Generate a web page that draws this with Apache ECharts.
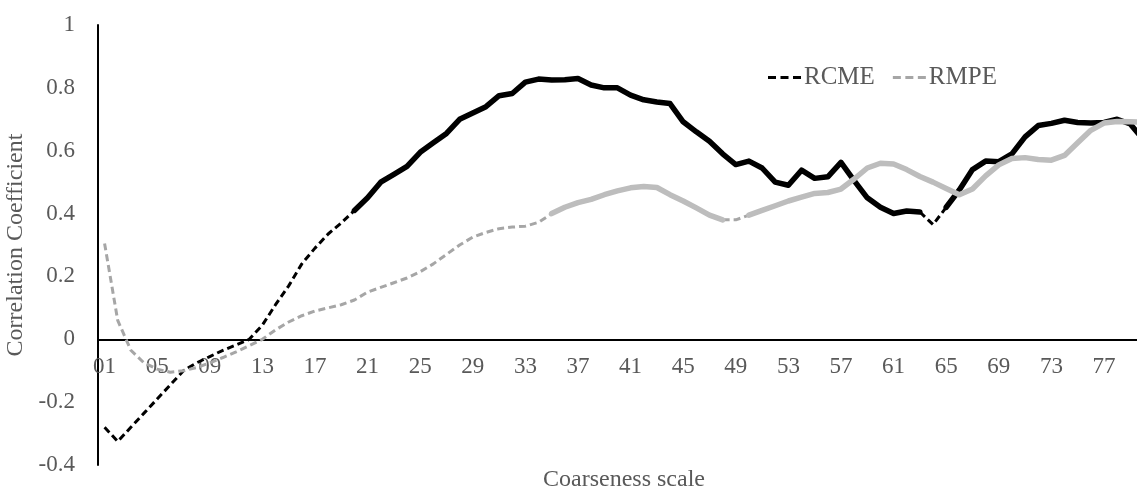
<!DOCTYPE html>
<html>
<head>
<meta charset="utf-8">
<script src="https://cdn.jsdelivr.net/npm/echarts@6/dist/echarts.min.js"></script>
<style>
  html, body { margin: 0; padding: 0; background: #fff; }
  #chart { width: 1137px; height: 492px; }
</style>
</head>
<body>
<div id="chart"></div>
<script>
// Coarseness scales 01..80
const scales = Array.from({ length: 80 }, (_, i) => String(i + 1).padStart(2, '0'));

// Correlation coefficient per scale
const rcme = [
  -0.28, -0.325, -0.28, -0.235, -0.19, -0.145, -0.10, -0.075, -0.055, -0.035,
  -0.018, 0.0, 0.045, 0.11, 0.17, 0.24, 0.29, 0.335, 0.37, 0.41,
  0.45, 0.50, 0.525, 0.55, 0.595, 0.625, 0.655, 0.70, 0.72, 0.74,
  0.775, 0.782, 0.818, 0.828, 0.825, 0.826, 0.83, 0.809, 0.80, 0.80,
  0.777, 0.762, 0.755, 0.75, 0.692, 0.66, 0.63, 0.59, 0.556, 0.567,
  0.545, 0.50, 0.49, 0.538, 0.512, 0.517, 0.563, 0.505, 0.45, 0.42,
  0.40, 0.408, 0.405, 0.365, 0.42, 0.475, 0.54, 0.567, 0.565, 0.59,
  0.644, 0.68, 0.687, 0.697, 0.69, 0.688, 0.69, 0.70, 0.685, 0.635
];
const rmpe = [
  0.305, 0.06, -0.035, -0.075, -0.095, -0.105, -0.10, -0.09, -0.075, -0.058,
  -0.04, -0.02, 0.0, 0.03, 0.055, 0.075, 0.09, 0.10, 0.11, 0.125,
  0.15, 0.165, 0.18, 0.195, 0.215, 0.24, 0.27, 0.30, 0.325, 0.34,
  0.352, 0.357, 0.36, 0.372, 0.40, 0.42, 0.435, 0.445, 0.46, 0.472,
  0.482, 0.486, 0.483, 0.46, 0.44, 0.418, 0.395, 0.38, 0.38, 0.395,
  0.41, 0.425, 0.44, 0.452, 0.464, 0.467, 0.478, 0.51, 0.545, 0.56,
  0.558, 0.54, 0.518, 0.50, 0.48, 0.46, 0.478, 0.52, 0.555, 0.575,
  0.578, 0.572, 0.57, 0.585, 0.625, 0.665, 0.688, 0.693, 0.692, 0.69
];

// Scale ranges (1-based, inclusive) drawn as thin dashed lines; the rest is drawn solid
const rcmeDashed = [[1, 20], [63, 65]];
const rmpeDashed = [[1, 35], [48, 50]];

const yTicks = { min: -0.4, max: 1, step: 0.2 };

function inRanges(n, ranges) {
  return ranges.some(([a, b]) => n >= a && n <= b);
}
function dashedPart(values, ranges) {
  return values.map((v, i) => (inRanges(i + 1, ranges) ? v : null));
}
function solidPart(values, ranges) {
  return values.map((v, i) => {
    const n = i + 1;
    const inside = ranges.some(([a, b]) => n > a && n < b);
    return inside ? null : v;
  });
}

const serif = 'Liberation Serif';
const textGrey = '#595959';
// three short dashes for the legend keys
const dashIcon = 'path://M0,0h8v3h-8z M12.5,0h8v3h-8z M25,0h8v3h-8z';

const gridTop = 25, gridBottom = 27, chartHeight = 492;
// distance from the bottom of the plot up to the zero line
const zeroOffset = (chartHeight - gridTop - gridBottom) * (0 - yTicks.min) / (yTicks.max - yTicks.min);

const chart = echarts.init(document.getElementById('chart'), null, { renderer: 'canvas' });
chart.setOption({
  animation: false,
  backgroundColor: '#fff',
  grid: { left: 98, right: -13, top: gridTop, bottom: gridBottom, containLabel: false, outerBoundsMode: 'none' },
  legend: {
    data: ['RCME', 'RMPE'],
    left: 763,
    top: 60,
    icon: dashIcon,
    itemWidth: 33,
    itemHeight: 3,
    itemGap: 18,
    textStyle: { fontFamily: serif, fontSize: 25, color: textGrey, padding: [0, 0, 0, -2] }
  },
  xAxis: [
    {
      // zero line and axis title
      type: 'category',
      data: scales,
      boundaryGap: true,
      name: 'Coarseness scale',
      nameLocation: 'middle',
      nameGap: 3,
      nameTextStyle: { fontFamily: serif, fontSize: 24, color: textGrey },
      axisLine: { onZero: true, lineStyle: { color: '#000', width: 2 } },
      axisTick: { show: false },
      axisLabel: { show: false },
      splitLine: { show: false }
    },
    {
      // scale labels sitting just under the zero line
      type: 'category',
      data: scales,
      boundaryGap: true,
      position: 'bottom',
      offset: -zeroOffset,
      axisLine: { show: false, onZero: false },
      axisTick: { show: false },
      axisLabel: { interval: 3, fontFamily: serif, fontSize: 23, color: textGrey, margin: 16 },
      splitLine: { show: false }
    }
  ],
  yAxis: {
    type: 'value',
    min: yTicks.min,
    max: yTicks.max,
    interval: yTicks.step,
    name: 'Correlation Coefficient',
    nameLocation: 'middle',
    nameGap: 62,
    nameTextStyle: { fontFamily: serif, fontSize: 24, color: textGrey },
    axisLine: { show: true, onZero: false, lineStyle: { color: '#000', width: 2 } },
    axisTick: { show: false },
    axisLabel: { fontFamily: serif, fontSize: 23, color: textGrey, margin: 23 },
    splitLine: { show: false }
  },
  series: [
    {
      name: 'RCME',
      type: 'line',
      data: dashedPart(rcme, rcmeDashed),
      symbol: 'none',
      connectNulls: false,
      lineStyle: { color: '#000', width: 3, type: [7, 4] },
      itemStyle: { color: '#000' },
      z: 2
    },
    {
      name: 'RCME solid',
      type: 'line',
      data: solidPart(rcme, rcmeDashed),
      symbol: 'none',
      connectNulls: false,
      lineStyle: { color: '#000', width: 5.5, cap: 'round', join: 'round' },
      z: 2
    },
    {
      name: 'RMPE',
      type: 'line',
      data: dashedPart(rmpe, rmpeDashed),
      symbol: 'none',
      connectNulls: false,
      lineStyle: { color: '#a6a6a6', width: 3, type: [7, 4] },
      itemStyle: { color: '#a6a6a6' },
      z: 3
    },
    {
      name: 'RMPE solid',
      type: 'line',
      data: solidPart(rmpe, rmpeDashed),
      symbol: 'none',
      connectNulls: false,
      lineStyle: { color: '#bdbdbd', width: 5.5, cap: 'round', join: 'round' },
      z: 3
    }
  ]
});
</script>
</body>
</html>
